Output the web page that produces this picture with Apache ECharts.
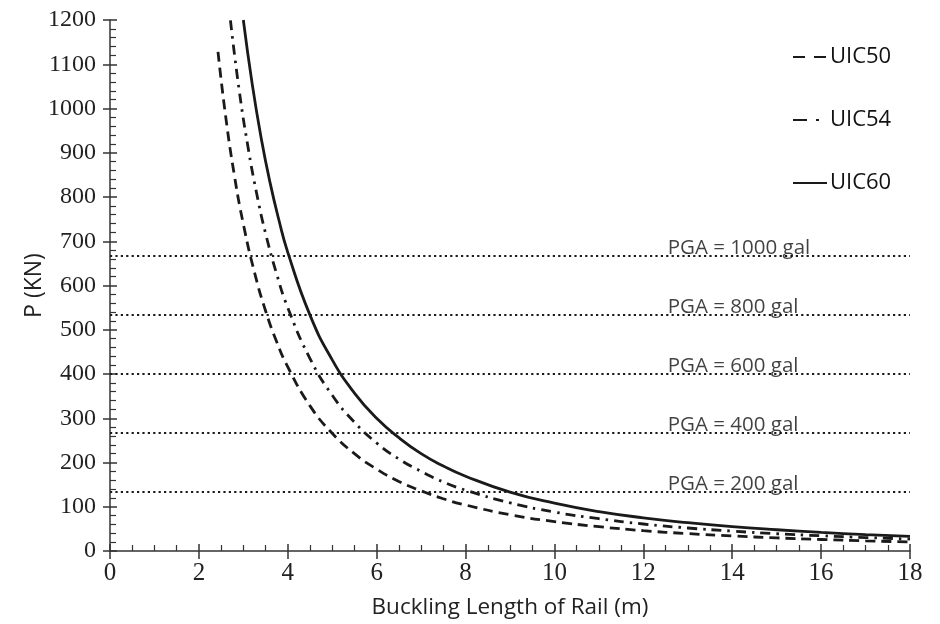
<!DOCTYPE html>
<html>
<head>
<meta charset="utf-8">
<title>Buckling load vs buckling length</title>
<script src="https://cdn.jsdelivr.net/npm/echarts@6/dist/echarts.min.js"></script>
<style>
html, body { margin: 0; padding: 0; background: #fff; }
#main { width: 940px; height: 624px; }
</style>
</head>
<body>
<div id="main"></div>
<script>
// buckling length (m) and load P (kN)
var lenUIC50 = [2.43, 2.6, 2.8, 3, 3.25, 3.5, 3.75, 4, 4.5, 5, 5.5, 6, 6.5, 7, 7.5, 8, 9, 10, 11, 12, 13, 14, 15, 16, 17, 18];
var pUIC50   = [1128, 984, 848, 739, 630, 543, 473, 416, 328, 266, 220, 185, 157, 136, 118, 104, 82, 66.5, 55, 46, 39.3, 34, 29.6, 26, 23, 20.5];

var lenUIC54 = [2.71, 2.9, 3.1, 3.3, 3.5, 3.75, 4, 4.5, 5, 5.5, 6, 6.5, 7, 7.5, 8, 9, 10, 11, 12, 13, 14, 15, 16, 17, 18];
var pUIC54   = [1199, 1046, 916, 808, 718, 626, 550, 435, 352, 291, 244, 208, 180, 156, 137.5, 109, 88, 73, 61, 52, 45, 39, 34.4, 30.4, 27];

var lenUIC60 = [3, 3.2, 3.4, 3.6, 3.8, 4, 4.5, 5, 5.5, 6, 6.5, 7, 7.5, 8, 9, 10, 11, 12, 13, 14, 15, 16, 17, 18];
var pUIC60   = [1200, 1055, 934, 833, 748, 675, 533, 432, 357, 300, 256, 220, 192, 169, 133, 108, 89, 75, 64, 55, 48, 42, 37, 33];

var pgaNames = ['PGA = 200 gal', 'PGA = 400 gal', 'PGA = 600 gal', 'PGA = 800 gal', 'PGA = 1000 gal'];
var pgaLoads = [133.3, 266.7, 400, 533.3, 666.7];

var xTicks = { min: 0, max: 18, interval: 2 };
var yTicks = { min: 0, max: 1200, interval: 100 };

function pairs(xs, ys) {
    var out = [];
    for (var i = 0; i < xs.length; i++) out.push([xs[i], ys[i]]);
    return out;
}

var ink = '#1a1a1a';
var sans = '"Open Sans", "Noto Sans", sans-serif';
var serif = '"Liberation Serif", "DejaVu Serif", serif';
var labelAt = 12.55; // where the PGA captions start (m)

var myChart = echarts.init(document.getElementById('main'));

var series = [
    {
        name: 'UIC50', type: 'line', smooth: true, symbol: 'none',
        itemStyle: { color: ink },
        lineStyle: { color: ink, width: 2.8, type: [10, 6] },
        data: pairs(lenUIC50, pUIC50)
    },
    {
        name: 'UIC54', type: 'line', smooth: true, symbol: 'none',
        itemStyle: { color: ink },
        lineStyle: { color: ink, width: 2.8, type: [10, 6, 2.5, 6] },
        data: pairs(lenUIC54, pUIC54)
    },
    {
        name: 'UIC60', type: 'line', smooth: true, symbol: 'none',
        itemStyle: { color: ink },
        lineStyle: { color: ink, width: 2.8 },
        data: pairs(lenUIC60, pUIC60)
    }
];

// dotted PGA levels
pgaLoads.forEach(function (v, i) {
    series.push({
        name: pgaNames[i], type: 'line', symbol: 'none', silent: true,
        lineStyle: { color: ink, width: 2.2, type: [2.2, 3.2] },
        data: [[xTicks.min, v], [xTicks.max, v]]
    });
});

// captions above each PGA line
series.push({
    type: 'scatter', symbolSize: 0, silent: true, z: 5,
    label: {
        show: true, position: [0, 3], align: 'left', verticalAlign: 'bottom',
        formatter: '{b}', fontFamily: sans, fontSize: 20.5, color: '#111'
    },
    data: pgaLoads.map(function (v, i) {
        return { name: pgaNames[i], value: [labelAt, v] };
    })
});

option = {
    backgroundColor: '#fff',
    animation: false,
    grid: { left: 110, right: 30, top: 20, bottom: 73, outerBoundsMode: 'none', containLabel: false },
    legend: {
        data: [
            { name: 'UIC50', lineStyle: { type: [12, 9] } },
            { name: 'UIC54', lineStyle: { type: [14, 9, 3, 20] } },
            { name: 'UIC60' }
        ],
        orient: 'vertical',
        left: 787, top: 41,
        itemWidth: 34, itemHeight: 14, itemGap: 41,
        itemStyle: { color: 'transparent', borderWidth: 0 },
        textStyle: { fontFamily: sans, fontSize: 22, color: '#111', padding: [0, 0, 0, -2] }
    },
    xAxis: [
        {
            type: 'value', min: xTicks.min, max: xTicks.max, interval: xTicks.interval,
            axisLine: { lineStyle: { color: '#333', width: 1.5 } },
            axisTick: { inside: false, length: 8, lineStyle: { color: '#333', width: 1.5 } },
            axisLabel: { fontFamily: serif, fontSize: 25, color: '#222', margin: 10 },
            splitLine: { show: false }
        },
        {
            // minor ticks inside, plus the axis title
            type: 'value', min: xTicks.min, max: xTicks.max, interval: xTicks.interval,
            position: 'bottom',
            name: 'Buckling Length of Rail (m)', nameLocation: 'middle', nameGap: 45,
            nameTextStyle: { fontFamily: sans, fontSize: 22.5, color: '#222' },
            axisLine: { show: false },
            axisTick: { inside: true, length: 7, lineStyle: { color: '#333', width: 1.5 } },
            minorTick: { show: true, splitNumber: 4, length: 6, lineStyle: { color: '#333', width: 1.2 } },
            axisLabel: { show: false },
            splitLine: { show: false }
        }
    ],
    yAxis: [
        {
            type: 'value', min: yTicks.min, max: yTicks.max, interval: yTicks.interval,
            axisLine: { show: true, lineStyle: { color: '#333', width: 1.5 } },
            axisTick: { show: true, inside: false, length: 7, lineStyle: { color: '#333', width: 1.5 } },
            axisLabel: {
                fontFamily: serif, fontSize: 24, color: '#222', margin: 14,
                formatter: function (v) { return String(v); }
            },
            splitLine: { show: false }
        },
        {
            type: 'value', min: yTicks.min, max: yTicks.max, interval: yTicks.interval,
            position: 'left',
            name: 'P (KN)', nameLocation: 'middle', nameGap: 64,
            nameTextStyle: { fontFamily: sans, fontSize: 23, color: '#222' },
            axisLine: { show: false },
            axisTick: { show: true, inside: true, length: 7, lineStyle: { color: '#333', width: 1.5 } },
            minorTick: { show: true, splitNumber: 5, length: 6, lineStyle: { color: '#333', width: 1.2 } },
            axisLabel: { show: false },
            splitLine: { show: false }
        }
    ],
    series: series
};

myChart.setOption(option);
</script>
</body>
</html>
